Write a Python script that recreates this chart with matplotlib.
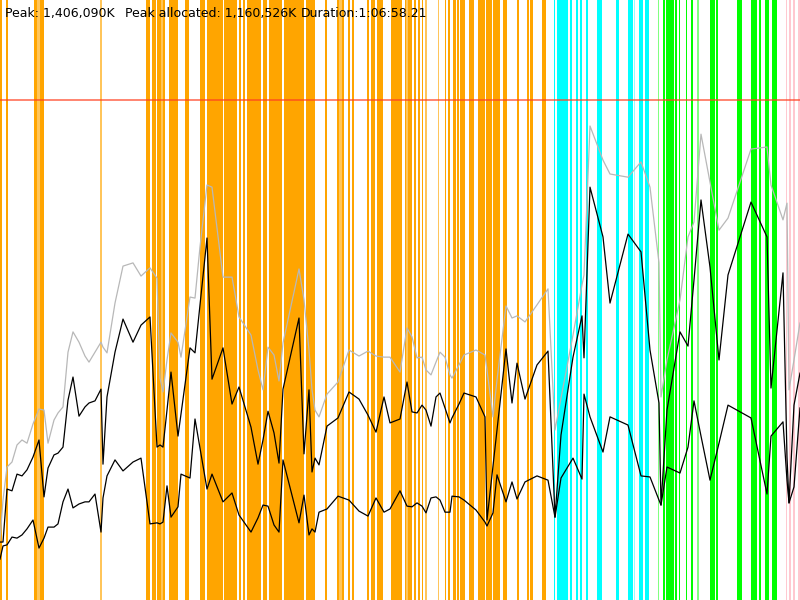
#!/usr/bin/env python3
"""Memory timeline: GC phases as vertical bands, heap curves on top."""

import matplotlib

matplotlib.use("Agg")
import matplotlib.pyplot as plt

# sample times (s) and memory (thousands of K)
times = [
    0, 15, 35, 60, 85, 110, 135, 165, 195, 220, 240, 270, 290, 315, 340, 365,
    395, 425, 445, 475, 505, 515, 535, 575, 615, 665, 705, 750, 785, 800, 815,
    835, 855, 890, 905, 950, 975,
    1000, 1035, 1060, 1115, 1160, 1195, 1255, 1290, 1315, 1340, 1370, 1395,
    1415, 1495, 1520, 1545, 1560, 1575, 1595, 1635, 1690, 1745, 1795, 1840,
    1880, 1920, 1950,
    2000, 2035, 2060, 2085, 2110, 2130, 2155, 2180, 2200, 2225, 2250, 2260,
    2295, 2320, 2380, 2425, 2435, 2465, 2485, 2530, 2560, 2585, 2625, 2685,
    2740, 2775, 2805, 2865, 2910, 2920, 2950, 3015, 3050, 3140, 3205, 3250,
    3295, 3305, 3335, 3400, 3440, 3470, 3505, 3550, 3595, 3640, 3755, 3835,
    3855, 3915, 3935, 3945, 3970, 4000,
]
peak_mem = [
    169, 281, 374, 388, 436, 450, 441, 495, 537, 534, 441, 506, 526, 543, 697,
    754, 725, 686, 669, 697, 725, 711, 695, 835, 939, 948, 911, 934, 905, 624,
    585, 675, 751, 725, 683, 852, 849,
    993, 1167, 1161, 908, 908, 796, 745, 647, 591, 711, 689, 616, 723, 931,
    844, 703, 591, 534, 515, 579, 613, 703, 686, 700, 686, 683, 683,
    641, 765, 740, 681, 683, 647, 633, 669, 697, 683, 633, 624, 661, 689, 703,
    689, 647, 515, 619, 827, 793, 799, 782, 830, 875, 478, 568, 745, 886, 914,
    1333, 1237, 1198, 1189, 1232, 1161, 948, 571, 675, 844, 1021, 1063, 1310,
    1175, 1040, 1074, 1268, 1274, 1167, 1069, 1116, 591, 675, 779,
]
allocated = [
    163, 163, 312, 307, 354, 349, 366, 402, 450, 290, 371, 408, 413, 430, 562,
    627, 517, 543, 554, 560, 593, 382, 571, 697, 790, 725, 773, 796, 430, 436,
    430, 534, 641, 461, 523, 709, 695,
    830, 1018, 621, 709, 551, 599, 486, 382, 450, 531, 470, 385, 593, 793, 411,
    591, 360, 399, 380, 489, 512, 585, 565, 520, 472, 571, 498,
    509, 613, 529, 526, 548, 534, 489, 571, 582, 540, 498, 512, 551, 582, 571,
    515, 225, 377, 478, 706, 554, 666, 565, 661, 700, 233, 464, 683, 799, 681,
    1161, 1021, 835, 1029, 979, 703, 554, 267, 534, 754, 714, 900, 1125, 936,
    675, 914, 1119, 1021, 596, 920, 402, 273, 548, 638,
]
live_after_gc = [
    115, 152, 155, 177, 174, 183, 200, 225, 146, 174, 205, 205, 214, 276, 312,
    259, 270, 276, 276, 298, 191, 287, 349, 394, 363, 388, 399, 214, 217, 214,
    219, 321, 233, 262, 354, 343, 509,
    427, 312, 354, 276, 301, 239, 191, 231, 267, 264, 211, 191, 394, 217, 295,
    183, 200, 191, 247, 256, 292, 281, 250, 236, 287, 247, 256,
    307, 264, 262, 273, 264, 245, 287, 290, 281, 247, 247, 292, 290, 281, 253,
    219, 208, 245, 352, 276, 332, 284, 332, 349, 337, 233, 343, 399, 340, 579,
    515, 416, 515, 492, 349, 346, 281, 267, 374, 357, 430, 560, 461, 337, 441,
    548, 512, 298, 461, 501, 337, 273, 318, 540,
]

peak_total = 1406.090
duration = 4000

# GC phase intervals (start s, end s)
young_gc = [
    (0, 10), (30, 40), (170, 220), (730, 750), (760, 780), (785, 825),
    (845, 890), (925, 945), (1000, 1025), (1035, 1115), (1120, 1185),
    (1195, 1205), (1215, 1225), (1235, 1305), (1315, 1335), (1345, 1410),
    (1420, 1520), (1530, 1575), (1625, 1635), (1685, 1720), (1740, 1750),
    (1760, 1770), (1835, 1845), (1855, 1875), (1885, 1915), (1955, 2010),
    (2025, 2060), (2070, 2080), (2090, 2100), (2110, 2115), (2225, 2230),
    (2240, 2250), (2265, 2280), (2285, 2295), (2300, 2325), (2345, 2370),
    (2390, 2425), (2430, 2460), (2465, 2500), (2515, 2535), (2585, 2595),
    (2635, 2645), (2650, 2665), (2710, 2730),
]
young_gc_short = [
    (500, 510), (2125, 2135), (2190, 2195), (185, 200), (805, 815),
    (1695, 1710), (2030, 2040),
]
mixed_gc = [
    (2770, 2775), (2785, 2840), (2850, 2860), (2880, 2890), (2900, 2910),
    (2930, 2940), (2985, 3010), (3080, 3095), (3140, 3165), (3195, 3215),
    (3225, 3245),
]
mixed_gc_short = [(3170, 3175)]
full_gc = [
    (3315, 3325), (3330, 3370), (3375, 3385), (3395, 3400), (3430, 3435),
    (3455, 3465), (3550, 3575), (3580, 3590), (3685, 3710), (3755, 3785),
    (3795, 3805), (3825, 3845), (3860, 3885),
]
full_gc_short = [(3290, 3295), (3485, 3495)]
remark = [(3930, 3935), (3945, 3955), (3965, 3975), (3990, 4000)]

BANDS = [
    (young_gc, "#FFA500"),
    (young_gc_short, "#FFC55A"),
    (mixed_gc, "#00FFFF"),
    (mixed_gc_short, "#90FFFF"),
    (full_gc, "#00FF00"),
    (full_gc_short, "#80FF80"),
    (remark, "#FFC8D0"),
]


def main() -> None:
    fig = plt.figure(figsize=(8, 6), dpi=100)
    ax = fig.add_axes([0, 0, 1, 1])
    ax.set_xlim(0, duration)
    ax.set_ylim(0, peak_total * 1.2)
    ax.axis("off")

    for spans, color in BANDS:
        for start, end in spans:
            ax.axvspan(start, end, color=color, lw=0, zorder=1)

    ax.plot(times, peak_mem, color="#B8B8B8", lw=0.9, zorder=3)
    ax.plot(times, allocated, color="black", lw=0.9, zorder=4)
    ax.plot(times, live_after_gc, color="black", lw=0.9, zorder=4)
    ax.axhline(peak_total, color="#FF4020", alpha=0.75, lw=1.2, zorder=5)

    txt = dict(transform=ax.transAxes, fontsize=9, va="center", ha="left",
               zorder=6)
    ax.text(0.006, 0.978, "Peak: 1,406,090K", **txt)
    ax.text(0.156, 0.978, "Peak allocated: 1,160,526K", **txt)
    ax.text(0.376, 0.978, "Duration:1:06:58.21", **txt)

    fig.savefig("out.png", dpi=100)
    plt.close(fig)


if __name__ == "__main__":
    main()
